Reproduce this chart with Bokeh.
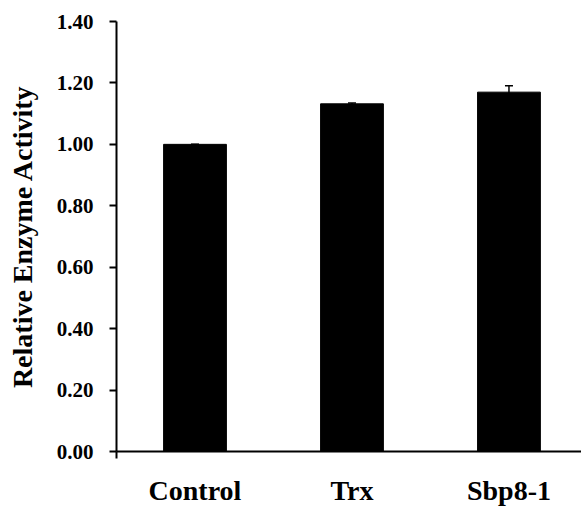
from bokeh.plotting import figure
from bokeh.models import Range1d, FixedTicker, LinearAxis, ColumnDataSource, Whisker, PrintfTickFormatter
from bokeh.embed import file_html
from bokeh.resources import INLINE

categories = ["Control", "Trx", "Sbp8-1"]
activity = [1.00, 1.132, 1.170]
errors = [0.0, 0.003, 0.021]
y_ticks = [0.0, 0.2, 0.4, 0.6, 0.8, 1.0, 1.2, 1.4]

FONT = "Liberation Serif"

xpos = [i + 0.5 for i in range(len(categories))]
src = ColumnDataSource(dict(
    x=xpos, top=activity,
    upper=[a + e for a, e in zip(activity, errors)],
    lower=[a - e for a, e in zip(activity, errors)],
))

p = figure(width=581, height=508, output_backend="svg", toolbar_location=None,
           x_range=Range1d(0, 2.962), y_range=Range1d(0, 1.40),
           x_axis_type=None, y_axis_type=None,
           min_border_left=116, min_border_right=0, min_border_top=21, min_border_bottom=56)
p.outline_line_color = None
p.grid.visible = False
p.background_fill_color = "white"
p.border_fill_color = "white"

p.vbar(x="x", top="top", width=0.40, bottom=0, source=src, fill_color="black", line_color="black")
w = Whisker(base="x", upper="upper", lower="lower", source=src, line_color="black", line_width=1.5)
w.upper_head.size = 8
w.upper_head.line_width = 1.5
w.lower_head.size = 8
w.lower_head.line_color = "black"
p.add_layout(w)

yaxis = LinearAxis(ticker=FixedTicker(ticks=y_ticks, minor_ticks=[]),
                   formatter=PrintfTickFormatter(format="%.2f"),
                   axis_label="Relative Enzyme Activity")
yaxis.axis_line_width = 2
yaxis.major_tick_line_width = 2
yaxis.major_tick_out = 7
yaxis.major_tick_in = 0
yaxis.minor_tick_line_color = None
yaxis.major_label_standoff = 16
yaxis.major_label_text_font = FONT
yaxis.major_label_text_font_style = "bold"
yaxis.major_label_text_font_size = "21px"
yaxis.major_label_text_color = "black"
yaxis.axis_label_text_font = FONT
yaxis.axis_label_text_font_style = "bold"
yaxis.axis_label_text_font_size = "28px"
yaxis.axis_label_text_color = "black"
yaxis.axis_label_standoff = 16
p.add_layout(yaxis, "left")

xaxis = LinearAxis(ticker=FixedTicker(ticks=xpos, minor_ticks=[0.0]))
xaxis.major_label_overrides = {x: c for x, c in zip(xpos, categories)}
xaxis.axis_line_width = 2
xaxis.major_tick_line_color = None
xaxis.major_tick_out = 0
xaxis.major_tick_in = 0
xaxis.minor_tick_line_width = 2
xaxis.minor_tick_out = 7
xaxis.minor_tick_in = 0
xaxis.major_label_standoff = 16
xaxis.major_label_text_font = FONT
xaxis.major_label_text_font_style = "bold"
xaxis.major_label_text_font_size = "28px"
xaxis.major_label_text_color = "black"
p.add_layout(xaxis, "below")

open("out.html", "w").write(file_html(p, INLINE))
